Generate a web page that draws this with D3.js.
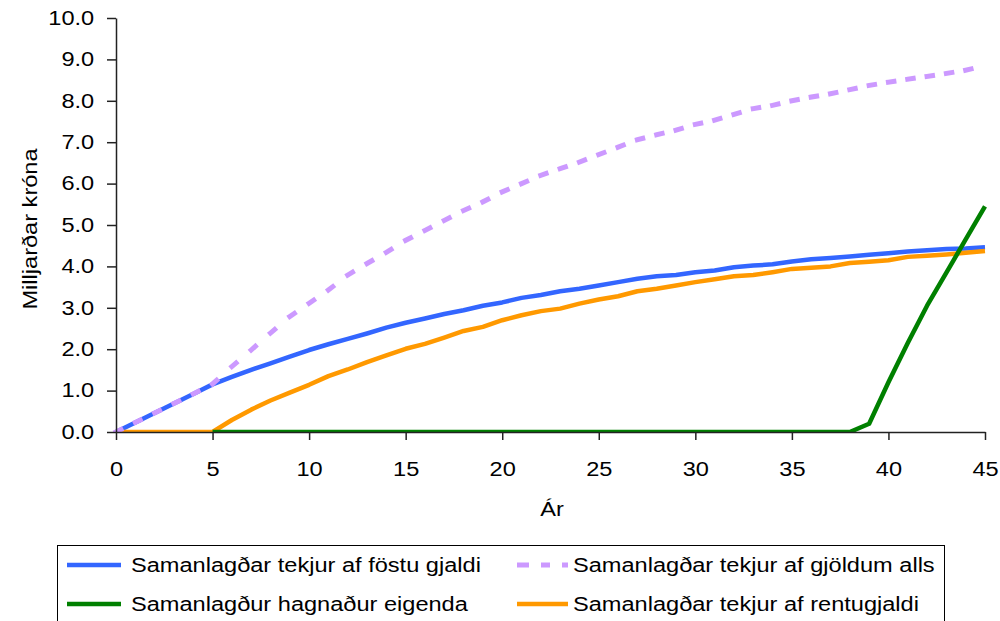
<!DOCTYPE html>
<html>
<head>
<meta charset="utf-8">
<script src="https://cdn.jsdelivr.net/npm/d3@7"></script>
<style>
  html, body { margin: 0; padding: 0; background: #fff; }
  svg { display: block; font-family: "Liberation Sans", Arial, sans-serif; }
</style>
</head>
<body>
<svg id="chart" width="1000" height="621"></svg>
<script>
// Years since start
const years = [0, 1, 2, 3, 4, 5, 6, 7, 8, 9, 10, 11, 12, 13, 14, 15, 16, 17, 18, 19, 20, 21, 22,
  23, 24, 25, 26, 27, 28, 29, 30, 31, 32, 33, 34, 35, 36, 37, 38, 39, 40, 41, 42, 43, 44, 45];

// Cumulative revenue, billions of krónur
const fixedFee = [0, 0.23, 0.46, 0.69, 0.92, 1.15, 1.33, 1.50, 1.66, 1.82, 1.98, 2.12, 2.25, 2.38, 2.52,
  2.64, 2.74, 2.85, 2.94, 3.05, 3.13, 3.24, 3.31, 3.40, 3.46, 3.54, 3.62, 3.70, 3.76, 3.79, 3.86, 3.90,
  3.98, 4.02, 4.05, 4.12, 4.17, 4.20, 4.24, 4.28, 4.32, 4.36, 4.39, 4.42, 4.43, 4.46];
const totalFees = [0, 0.23, 0.46, 0.69, 0.92, 1.16, 1.58, 1.98, 2.39, 2.79, 3.11, 3.43, 3.79, 4.07, 4.34,
  4.63, 4.87, 5.11, 5.35, 5.56, 5.80, 6.00, 6.20, 6.36, 6.52, 6.70, 6.88, 7.06, 7.18, 7.29, 7.43, 7.53,
  7.67, 7.81, 7.89, 8.00, 8.09, 8.17, 8.27, 8.37, 8.45, 8.52, 8.59, 8.66, 8.74, 8.85];
const ownerProfit = [null, null, null, null, null, 0, 0, 0, 0, 0, 0, 0, 0, 0, 0, 0, 0, 0, 0, 0, 0, 0, 0,
  0, 0, 0, 0, 0, 0, 0, 0, 0, 0, 0, 0, 0, 0, 0, 0, 0.20, 1.20, 2.15, 3.05, 3.85, 4.65, 5.45];
const rentFee = [0, 0, 0, 0, 0, 0, 0.29, 0.54, 0.76, 0.95, 1.14, 1.35, 1.51, 1.69, 1.85, 2.01, 2.13,
  2.28, 2.44, 2.54, 2.70, 2.82, 2.92, 2.98, 3.10, 3.20, 3.28, 3.40, 3.46, 3.54, 3.62, 3.69, 3.76, 3.79,
  3.86, 3.94, 3.97, 4.00, 4.08, 4.11, 4.15, 4.23, 4.26, 4.29, 4.33, 4.37];

const xTickValues = [0, 5, 10, 15, 20, 25, 30, 35, 40, 45];
const yTickValues = [0, 1, 2, 3, 4, 5, 6, 7, 8, 9, 10];

const xTitle = "Ár";
const yTitle = "Milljarðar króna";
const seriesNames = [
  "Samanlagðar tekjur af föstu gjaldi",
  "Samanlagðar tekjur af gjöldum alls",
  "Samanlagður hagnaður eigenda",
  "Samanlagðar tekjur af rentugjaldi"
];
const colors = { fixed: "#3366FF", total: "#CC99FF", profit: "#008000", rent: "#FF9900" };

// Text is set in a slightly widened face
const FONT = 19.5;
const SX = 1.21;

const svg = d3.select("#chart");
const x = d3.scaleLinear().domain([0, 45]).range([116, 985]);
const y = d3.scaleLinear().domain([0, 10]).range([432, 18]);

svg.append("defs").append("clipPath").attr("id", "plot")
  .append("rect").attr("x", 100).attr("y", 0).attr("width", 900).attr("height", 432);

const plot = svg.append("g").attr("clip-path", "url(#plot)");

const line = d3.line()
  .defined(d => d[1] !== null)
  .x(d => x(d[0]))
  .y(d => y(d[1]));

function zipped(vals) { return years.map((yr, i) => [yr, vals[i]]); }

function solid(vals, color) {
  plot.append("path")
    .attr("d", line(zipped(vals)))
    .attr("fill", "none")
    .attr("stroke", color)
    .attr("stroke-width", 4.5)
    .attr("stroke-linejoin", "round");
}

solid(fixedFee, colors.fixed);
solid(rentFee, colors.rent);

// Dashed total: one short dash at the start of every yearly segment
const tot = zipped(totalFees);
for (let i = 0; i < tot.length - 1; i++) {
  plot.append("path")
    .attr("d", line([tot[i], tot[i + 1]]))
    .attr("fill", "none")
    .attr("stroke", colors.total)
    .attr("stroke-width", 5)
    .attr("stroke-dasharray", "5.5,200")
    .attr("stroke-linecap", "square");
}

solid(ownerProfit, colors.profit);

// Axes
const yAxis = svg.append("g")
  .attr("transform", `translate(${x(0)},0)`)
  .call(d3.axisLeft(y).tickValues(yTickValues).tickFormat(d3.format(".1f"))
    .tickSize(9).tickSizeOuter(0).tickPadding(6));
const xAxis = svg.append("g")
  .attr("transform", `translate(0,${y(0)})`)
  .call(d3.axisBottom(x).tickValues(xTickValues).tickFormat(d3.format("d"))
    .tickSize(8).tickSizeOuter(0).tickPadding(22));

[yAxis, xAxis].forEach(ax => {
  ax.select(".domain").attr("stroke", "#222").attr("stroke-width", 1.5);
  ax.selectAll(".tick line").attr("stroke", "#222").attr("stroke-width", 1.5);
  ax.selectAll(".tick text")
    .attr("font-family", "Liberation Sans, Arial, sans-serif")
    .attr("font-size", FONT)
    .attr("fill", "#000")
    .attr("transform", `scale(${SX},1)`);
});
yAxis.selectAll(".tick text").attr("x", -18);

// Axis titles
svg.append("text")
  .attr("transform", `translate(37,229) rotate(-90) scale(${SX},1)`)
  .attr("text-anchor", "middle")
  .attr("font-size", FONT)
  .text(yTitle);

svg.append("text")
  .attr("transform", `translate(552,516) scale(${SX},1)`)
  .attr("text-anchor", "middle")
  .attr("font-size", FONT)
  .text(xTitle);

// Legend
svg.append("rect")
  .attr("x", 57.5).attr("y", 545.5).attr("width", 887).attr("height", 90)
  .attr("fill", "#fff").attr("stroke", "#000").attr("stroke-width", 1);

const legendItems = [
  { name: seriesNames[0], color: colors.fixed, x0: 67, x1: 121, tx: 131, row: 0, dash: null },
  { name: seriesNames[1], color: colors.total, x0: 517, x1: 568, tx: 573, row: 0, dash: "12,12,9,12,6" },
  { name: seriesNames[2], color: colors.profit, x0: 67, x1: 121, tx: 131, row: 1, dash: null },
  { name: seriesNames[3], color: colors.rent, x0: 517, x1: 568, tx: 573, row: 1, dash: null }
];
const rowY = [565, 604];

const leg = svg.append("g");
legendItems.forEach(it => {
  const ly = rowY[it.row];
  const l = leg.append("line")
    .attr("x1", it.x0).attr("x2", it.x1).attr("y1", ly).attr("y2", ly)
    .attr("stroke", it.color).attr("stroke-width", 4.5);
  if (it.dash) l.attr("stroke-dasharray", it.dash).attr("stroke-width", 5);
  leg.append("text")
    .attr("transform", `translate(${it.tx},${ly + 7}) scale(${SX},1)`)
    .attr("font-size", FONT)
    .attr("fill", "#000")
    .text(it.name);
});
</script>
</body>
</html>
